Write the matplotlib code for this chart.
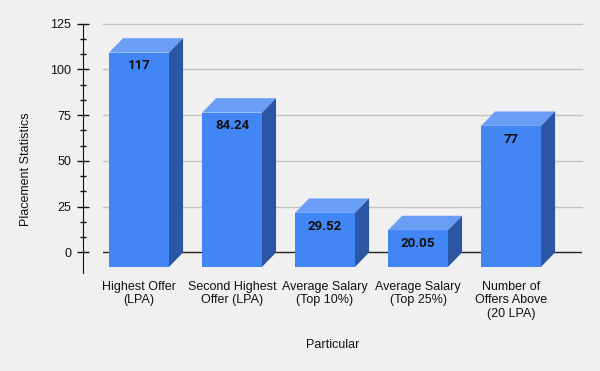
import matplotlib
matplotlib.use("Agg")
import matplotlib.pyplot as plt
import numpy as np

# Chart data
categories = ["Highest Offer\n(LPA)", "Second Highest\nOffer (LPA)", "Average Salary\n(Top 10%)",
              "Average Salary\n(Top 25%)", "Number of\nOffers Above\n(20 LPA)"]
values = [117, 84.24, 29.52, 20.05, 77]
value_labels = ["117", "84.24", "29.52", "20.05", "77"]

plt.rcParams['font.family'] = ['Liberation Sans', 'DejaVu Sans']

bg = "#f0f0f0"
front_col = "#4285f4"
top_col = "#6a9ef6"
side_col = "#2b56a3"

fig = plt.figure(figsize=(6, 3.71), dpi=100, facecolor=bg)
ax = fig.add_axes([0.1717, 0.2652, 0.7983, 0.6714], facecolor=bg)

ax.set_xlim(-0.387, 4.763)
ax.set_ylim(-11, 124.5)

# pseudo 3D depth, in data units
w = 0.645
dx = 0.151
dy = 7.9

# gridlines and zero line
for g in [25, 50, 75, 100, 125]:
    ax.axhline(g, color="#c2c2c2", lw=1, zorder=1, clip_on=False)
ax.axhline(0, color="#222222", lw=1, zorder=1)

x = np.arange(len(values))
for i, v in zip(x, values):
    l = i - w / 2
    r = i + w / 2
    # front face
    ax.fill([l, r, r, l], [-dy, -dy, v - dy, v - dy], color=front_col, lw=0, zorder=3)
    # top face
    ax.fill([l, r, r + dx, l + dx], [v - dy, v - dy, v, v], color=top_col, lw=0, zorder=3)
    # side face
    ax.fill([r, r + dx, r + dx, r], [-dy, 0, v, v - dy], color=side_col, lw=0, zorder=3)

for i, v, lab in zip(x, values, value_labels):
    ax.annotate(lab, xy=(i, v - dy), xytext=(0, -9.6), textcoords="offset points",
                ha="center", va="center", fontsize=9.5, fontweight="bold", color="#111111",
                family="Roboto", zorder=4)

# axes styling
for s in ["top", "right", "bottom"]:
    ax.spines[s].set_visible(False)
ax.spines["left"].set_position(("outward", 14.4))
ax.spines["left"].set_bounds(-11, 125)
ax.spines["left"].set_color("#111111")

ax.set_yticks([0, 25, 50, 75, 100, 125])
minor = [m for m in np.arange(0, 125.01, 25 / 3) if round(m, 3) % 25 != 0]
ax.set_yticks(minor, minor=True)
ax.tick_params(axis="y", which="major", direction="inout", length=8.6, width=1, pad=4.3,
               labelsize=9, colors="#111111")
ax.tick_params(axis="y", which="minor", direction="inout", length=4.3, width=1, colors="#111111")

ax.set_xticks(x)
ax.set_xticklabels(categories, fontsize=9, color="#111111")
ax.tick_params(axis="x", length=0, pad=5.8)

fig.text(333 / 600, 1 - 345 / 371, "Particular", ha="center", va="center", fontsize=9, color="#111111")
fig.text(26 / 600, 1 - 169 / 371, "Placement Statistics", ha="center", va="center",
         rotation=90, fontsize=9, color="#111111")

fig.savefig("out.png", dpi=100, facecolor=bg)
